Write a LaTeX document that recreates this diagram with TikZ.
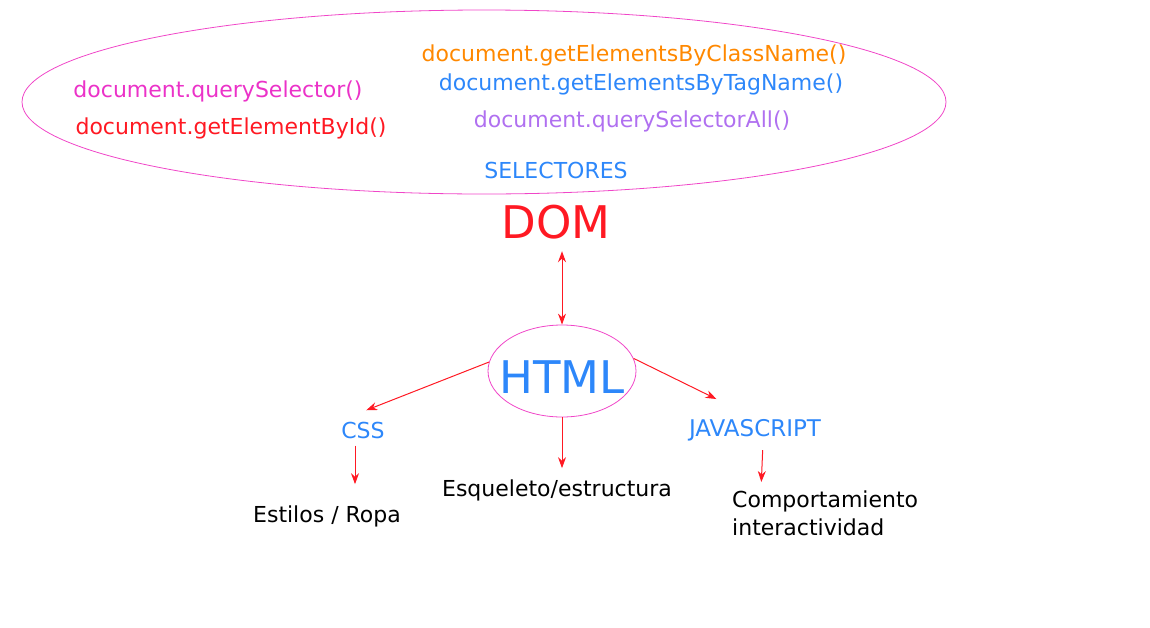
\documentclass[tikz,border=0pt]{standalone}
\usepackage{fontspec}
\setmainfont{DejaVu Sans}
\usetikzlibrary{arrows.meta, shapes.geometric}

\definecolor{ringpink}{RGB}{240,70,200}
\definecolor{selpink}{RGB}{235,50,200}
\definecolor{domred}{RGB}{255,25,35}
\definecolor{selorange}{RGB}{255,136,0}
\definecolor{selblue}{RGB}{45,135,250}
\definecolor{selpurple}{RGB}{176,112,240}

\tikzset{
  conn/.style={draw=domred, line width=1pt, -{Stealth[length=11pt,width=8pt]}},
  txt/.style={font=\fontsize{22}{28}\selectfont, inner sep=1pt},
  bigtxt/.style={font=\fontsize{45}{50}\selectfont, inner sep=0pt},
  ring/.style={ellipse, draw=ringpink, line width=0.8pt, inner sep=0pt}
}

\begin{document}
\begin{tikzpicture}[x=1pt, y=-1pt]
  \useasboundingbox (0,0) rectangle (1150,627);
  % selector cloud
  \node[ring, minimum width=924pt, minimum height=184pt] (cloud) at (484,102) {};
  \node[txt, text=selpink] (qs) at (218,91) {document.querySelector()};
  \node[txt, text=domred] (gid) at (231,128) {document.getElementById()};
  \node[txt, text=selorange] (gcn) at (634,55) {document.getElementsByClassName()};
  \node[txt, text=selblue] (gtn) at (641,84) {document.getElementsByTagName()};
  \node[txt, text=selpurple] (qsa) at (632,121) {document.querySelectorAll()};
  \node[txt, text=selblue] (selectores) at (556,170) {SELECTORES};
  % DOM and HTML
  \node[bigtxt, text=domred] (dom) at (556,222) {DOM};
  \node[ring, minimum width=148pt, minimum height=92pt] (htmlring) at (562,371) {};
  \node[bigtxt, text=selblue] (html) at (562,377) {HTML};
  % the three parts
  \node[txt, text=selblue] (css) at (363,430) {CSS};
  \node[txt, text=selblue, font=\fontsize{23}{28}\selectfont] (js) at (755,430) {JAVASCRIPT};
  \node[txt] (estilos) at (327,516) {Estilos / Ropa};
  \node[txt] (esq) at (557,490) {Esqueleto/estructura};
  \node[txt, align=left, anchor=north west] (comp) at (731,490) {Comportamiento\\interactividad};
  % arrows
  \draw[conn, {Stealth[length=11pt,width=8pt]}-{Stealth[length=11pt,width=8pt]}, shorten <=12pt]
    (htmlring.north |- dom.south) -- (htmlring.north);
  \draw[conn, shorten >=28pt] (htmlring.173) -- (css.north west);
  \draw[conn, shorten >=10pt] (htmlring.south) -- (htmlring.south |- esq.north);
  \draw[conn, shorten >=43pt] (htmlring.10) -- (js.north);
  \draw[conn, shorten <=6pt, shorten >=20pt] ([xshift=-8pt]css.south) -- ([xshift=-8pt]css.south |- estilos.north);
  \draw[conn, shorten <=8pt, shorten >=8pt] ([xshift=8pt]js.south) -- ([xshift=6pt]js.south |- comp.north);
\end{tikzpicture}
\end{document}
